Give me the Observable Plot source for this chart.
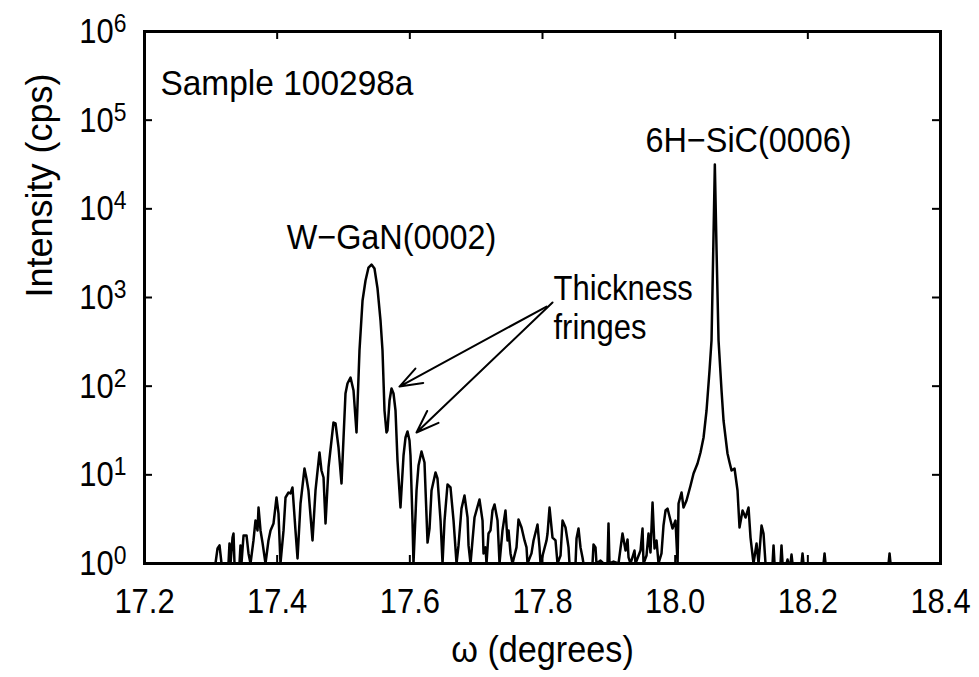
<!DOCTYPE html>
<html>
<head>
<meta charset="utf-8">
<script src="https://cdn.jsdelivr.net/npm/d3@7"></script>
<script src="https://cdn.jsdelivr.net/npm/@observablehq/plot@0.6"></script>
<style>
  html, body { margin: 0; padding: 0; background: white; }
</style>
</head>
<body>
<div id="chart"></div>
<script>
// ω (degrees)
const omega = [
17.3070,17.3101,17.3131,17.3161,17.3266,17.3281,17.3297,17.3327,17.3342,17.3357,
17.3432,17.3447,17.3462,17.3493,17.3538,17.3568,17.3598,17.3643,17.3673,17.3704,
17.3719,17.3749,17.3779,17.3824,17.3869,17.3900,17.3945,17.3990,17.4020,17.4050,
17.4096,17.4126,17.4171,17.4201,17.4231,17.4276,17.4307,17.4352,17.4412,17.4442,
17.4472,17.4533,17.4578,17.4638,17.4668,17.4699,17.4729,17.4774,17.4849,17.4880,
17.4925,17.4970,17.5030,17.5060,17.5106,17.5151,17.5196,17.5241,17.5287,17.5332,
17.5377,17.5422,17.5467,17.5513,17.5558,17.5588,17.5618,17.5648,17.5663,17.5694,
17.5724,17.5754,17.5784,17.5814,17.5859,17.5905,17.5935,17.5965,17.5995,17.6010,
17.6040,17.6055,17.6101,17.6131,17.6176,17.6221,17.6267,17.6297,17.6327,17.6387,
17.6417,17.6463,17.6493,17.6523,17.6568,17.6613,17.6659,17.6704,17.6734,17.6779,
17.6824,17.6870,17.6885,17.6915,17.6945,17.6975,17.7050,17.7096,17.7111,17.7141,
17.7156,17.7186,17.7216,17.7246,17.7277,17.7322,17.7352,17.7397,17.7442,17.7473,
17.7488,17.7518,17.7548,17.7608,17.7638,17.7684,17.7729,17.7759,17.7774,17.7834,
17.7865,17.7925,17.7955,17.7970,17.8061,17.8076,17.8106,17.8151,17.8196,17.8226,
17.8272,17.8302,17.8347,17.8377,17.8392,17.8407,17.8498,17.8513,17.8543,17.8573,
17.8603,17.8618,17.8754,17.8769,17.8799,17.8814,17.8875,17.8920,17.8980,17.8995,
17.9010,17.9071,17.9146,17.9176,17.9206,17.9252,17.9282,17.9297,17.9327,17.9387,
17.9402,17.9478,17.9508,17.9523,17.9568,17.9598,17.9628,17.9659,17.9689,17.9719,
17.9749,17.9794,17.9824,17.9855,17.9885,17.9930,17.9960,18.0005,18.0036,18.0051,
18.0096,18.0126,18.0171,18.0232,18.0277,18.0337,18.0382,18.0428,18.0473,18.0518,
18.0548,18.0574,18.0598,18.0624,18.0654,18.0699,18.0729,18.0789,18.0820,18.0850,
18.0895,18.0940,18.0970,18.1016,18.1061,18.1106,18.1136,18.1181,18.1227,18.1257,
18.1302,18.1332,18.1362,18.1468,18.1483,18.1498,18.1588,18.1603,18.1619,18.1679,
18.1694,18.1709,18.1739,18.1754,18.1769,18.1905,18.1920,18.1935,18.2237,18.2252,
18.2267,18.3217,18.3232,18.3247
];
// Intensity (cps)
const intensity = [
1,1.48,1.60,1,1,1.68,1,1.96,2.18,1,
1,1.60,1,2.07,2.07,1.30,1,1.82,3.05,2.36,
4.28,2.36,1.72,1,1.82,2.36,2.83,5.55,3.66,1,
2.36,5.55,6.32,6.16,7.20,2.36,1.14,4.75,11.79,9.09,
6.66,1.82,6.66,17.86,11.19,9.33,2.83,12.10,38.92,37.93,
20.34,7.98,82.65,107.2,125.2,89.36,30.02,252.5,925,1555,
2179,2355,2123,1263,550,252.5,53.15,30.02,31.62,68.92,
94.12,82.65,53.15,14.51,4.28,16.52,26.36,30.81,24.39,16.52,
3.05,1,6.66,12.74,18.33,13.78,1.72,2.48,6.66,10.62,
9.09,3.05,1,3.05,7.78,7.20,3.05,1,1.60,4.17,
5.85,3.30,1.60,1,1.82,3.30,5.27,3.05,1.30,1.52,
1,2.18,2.36,3.96,4.63,3.05,1,2.36,3.96,1.82,
2.36,1.30,1,1.52,3.13,2.55,1.82,1.52,1,1.30,
1.82,2.75,1.52,1,1.82,2.18,4.28,1.96,1.82,1,
1.23,3.05,2.55,1.82,1.52,1,1,1.91,2.48,1.52,
1.17,1,1,1.64,1.52,1,1.08,1,1,2.83,
1,1.05,1,1.48,2.18,1.40,1.87,1.17,1,1.40,
1,1.40,2.48,1,1.23,2.18,1.33,4.88,1.48,1.82,
1,1.30,2.68,3.96,4.17,3.05,2.48,3.05,1,4.75,
6.32,4.28,5.13,7.58,10.35,13.42,17.86,26.36,53.15,150.2,
327.3,3388,31610,3388,327.3,89.36,41.0,17.40,13.78,11.19,
11.79,6.66,2.55,3.96,3.30,4.28,1.96,1,1.68,1,
2.68,2.18,1,1,1.60,1,1,1.60,1,1,
1.11,1,1,1.26,1,1,1.30,1,1,1.30,
1,1,1.30,1
];

const xTicks = [17.2, 17.4, 17.6, 17.8, 18.0, 18.2, 18.4];
const yTicks = [1, 10, 100, 1000, 10000, 100000, 1000000];

// Annotations (positions in data units)
const noteText = ["Sample 100298a", "W\u2212GaN(0002)", "6H\u2212SiC(0006)", "Thickness\nfringes"];
const noteOmega = [17.224, 17.5724, 18.1106, 17.8166];
const noteIntensity = [266000, 4750, 58900, 788];
const noteAnchor = ["start", "middle", "middle", "start"];

const arrowX1 = [17.8061, 17.8151];
const arrowY1 = [791, 878];
const arrowX2 = [17.5844, 17.6101];
const arrowY2 = [99, 30];

const data = omega.map((w, i) => ({omega: w, intensity: intensity[i]}));
const notes = noteText.map((t, i) => ({text: t, omega: noteOmega[i], intensity: noteIntensity[i], anchor: noteAnchor[i]}));
const arrows = arrowX1.map((x, i) => ({x1: x, y1: arrowY1[i], x2: arrowX2[i], y2: arrowY2[i]}));

const W = 979, H = 677;
const mL = 144, mR = 39, mT = 31, mB = 114;
const plotW = W - mL - mR, plotH = H - mT - mB;
const tickLen = 8;
const FONT = "'Liberation Sans', Arial, Helvetica, sans-serif";
const FS = 36;

const chart = Plot.plot({
  width: W,
  height: H,
  marginLeft: mL,
  marginRight: mR,
  marginTop: mT,
  marginBottom: mB,
  style: {fontFamily: FONT, fontSize: FS + "px", background: "white", color: "black"},
  x: {domain: [17.2, 18.4]},
  y: {type: "log", domain: [1, 1e6]},
  marks: [
    Plot.axisX(xTicks, {tickSize: 0, tickPadding: 24, tickFormat: d3.format(".1f"), label: null, fontSize: FS}),
    Plot.axisY(yTicks, {tickSize: 0, tickPadding: 18, tickFormat: d => "10^" + Math.round(Math.log10(d)), label: null, fontSize: FS}),
    Plot.ruleX(xTicks, {x: d => d, insetBottom: plotH - tickLen, stroke: "black", strokeWidth: 2}),
    Plot.ruleX(xTicks, {x: d => d, insetTop: plotH - tickLen, stroke: "black", strokeWidth: 2}),
    Plot.ruleY(yTicks, {y: d => d, insetRight: plotW - tickLen, stroke: "black", strokeWidth: 2}),
    Plot.ruleY(yTicks, {y: d => d, insetLeft: plotW - tickLen, stroke: "black", strokeWidth: 2}),
    Plot.line(data, {x: "omega", y: "intensity", stroke: "black", strokeWidth: 2.5, strokeLinejoin: "round"}),
    Plot.frame({stroke: "black", strokeWidth: 3}),
    Plot.arrow(arrows, {x1: "x1", y1: "y1", x2: "x2", y2: "y2", stroke: "black", strokeWidth: 2, headLength: 18, headAngle: 40}),
    Plot.text(notes.filter(d => d.anchor === "start"), {x: "omega", y: "intensity", text: "text", textAnchor: "start", lineAnchor: "middle", lineHeight: 1.1, fontSize: FS, fill: "black"}),
    Plot.text(notes.filter(d => d.anchor === "middle"), {x: "omega", y: "intensity", text: "text", textAnchor: "middle", lineAnchor: "middle", fontSize: FS, fill: "black"}),
    Plot.text(["Intensity (cps)"], {frameAnchor: "left", dx: -104, rotate: -90, fontSize: FS, fill: "black"}),
    Plot.text(["\u03C9 (degrees)"], {frameAnchor: "bottom", dy: 98, fontSize: FS, fill: "black"})
  ]
});

// superscript exponents on log tick labels
chart.querySelectorAll('g[aria-label="y-axis tick label"] text').forEach(t => {
  const s = t.textContent;
  if (!s.includes("^")) return;
  const [base, exp] = s.split("^");
  while (t.firstChild) t.removeChild(t.firstChild);
  const ns = "http://www.w3.org/2000/svg";
  const b = document.createElementNS(ns, "tspan");
  b.textContent = base;
  const e = document.createElementNS(ns, "tspan");
  e.textContent = exp;
  e.setAttribute("dy", "-0.42em");
  e.setAttribute("font-size", "0.74em");
  t.appendChild(b);
  t.appendChild(e);
});

// condense glyphs horizontally to match the reference's narrow stroke font
function squeezeEl(t, sx) {
  t.setAttribute("transform", (t.getAttribute("transform") || "") + ` scale(${sx},1)`);
}
chart.querySelectorAll('g[aria-label="x-axis tick label"] text, g[aria-label="y-axis tick label"] text').forEach(t => squeezeEl(t, 0.86));
chart.querySelectorAll('g[aria-label="text"] text').forEach(t => {
  const s = t.textContent;
  if (s.startsWith("Sample")) squeezeEl(t, 0.93);
  else if (s.startsWith("Thickness")) squeezeEl(t, 0.86);
  else if (s.includes("GaN") || s.includes("SiC")) squeezeEl(t, 0.9);
  else if (s.includes("degrees")) squeezeEl(t, 0.95);
});

document.getElementById("chart").appendChild(chart);
</script>
</body>
</html>
